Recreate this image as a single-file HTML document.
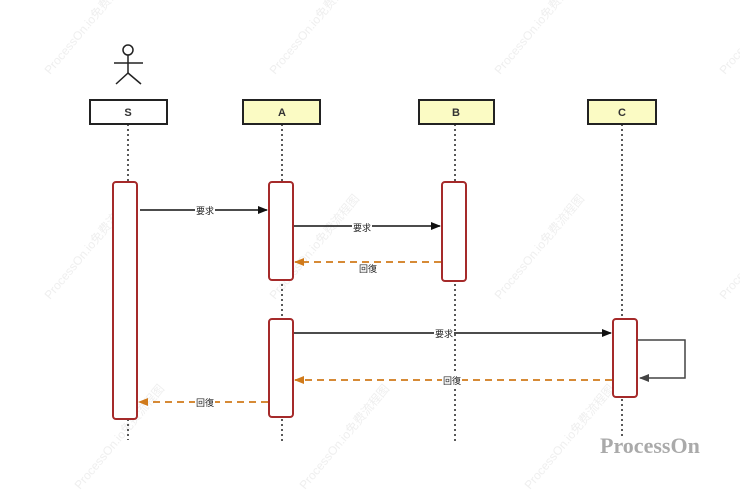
<!DOCTYPE html>
<html><head><meta charset="utf-8"><style>
html,body{margin:0;padding:0;background:#fff;}
svg{display:block;}
text{font-family:"Liberation Sans","Noto Sans CJK SC",sans-serif;}
text.po{font-family:"Liberation Serif",serif;}
</style></head><body>
<svg width="740" height="490" viewBox="0 0 740 490" xmlns="http://www.w3.org/2000/svg">
<defs>
<marker id="ab" markerWidth="10" markerHeight="8" refX="9" refY="4" orient="auto" markerUnits="userSpaceOnUse"><path d="M0,0 L10,4 L0,8 z" fill="#111"/></marker>
<marker id="ao" markerWidth="10" markerHeight="8" refX="9" refY="4" orient="auto" markerUnits="userSpaceOnUse"><path d="M0,0 L10,4 L0,8 z" fill="#d07a1a"/></marker>
<marker id="ag" markerWidth="10" markerHeight="8" refX="9" refY="4" orient="auto" markerUnits="userSpaceOnUse"><path d="M0,0 L10,4 L0,8 z" fill="#444"/></marker>
</defs>
<g fill="#efefef" font-size="12">
<text transform="translate(50,75) rotate(-50)">ProcessOn.io免费流程图</text>
<text transform="translate(275,75) rotate(-50)">ProcessOn.io免费流程图</text>
<text transform="translate(500,75) rotate(-50)">ProcessOn.io免费流程图</text>
<text transform="translate(725,75) rotate(-50)">ProcessOn</text>
<text transform="translate(50,300) rotate(-50)">ProcessOn.io免费流程图</text>
<text transform="translate(275,300) rotate(-50)">ProcessOn.io免费流程图</text>
<text transform="translate(500,300) rotate(-50)">ProcessOn.io免费流程图</text>
<text transform="translate(725,300) rotate(-50)">ProcessOn</text>
<text transform="translate(80,490) rotate(-50)">ProcessOn.io免费流程图</text>
<text transform="translate(305,490) rotate(-50)">ProcessOn.io免费流程图</text>
<text transform="translate(530,490) rotate(-50)">ProcessOn.io免费流程图</text>
</g>
<g stroke="#222" stroke-width="1.5" fill="none">
<circle cx="128" cy="50" r="5"/>
<line x1="128" y1="55" x2="128" y2="73"/>
<line x1="114" y1="63" x2="143" y2="63"/>
<line x1="128" y1="73" x2="116" y2="84"/>
<line x1="128" y1="73" x2="141" y2="84"/>
</g>
<g stroke="#222" stroke-width="1.5" stroke-dasharray="2,3">
<line x1="128" y1="124" x2="128" y2="440"/>
<line x1="282" y1="124" x2="282" y2="442"/>
<line x1="455" y1="124" x2="455" y2="442"/>
<line x1="622" y1="124" x2="622" y2="436"/>
</g>
<g stroke="#222" stroke-width="2">
<rect x="90" y="100" width="77" height="24" fill="#fff"/>
<rect x="243" y="100" width="77" height="24" fill="#fbfbc4"/>
<rect x="419" y="100" width="75" height="24" fill="#fbfbc4"/>
<rect x="588" y="100" width="68" height="24" fill="#fbfbc4"/>
</g>
<g font-size="11" font-weight="bold" fill="#333" text-anchor="middle">
<text x="128" y="116">S</text><text x="282" y="116">A</text><text x="456" y="116">B</text><text x="622" y="116">C</text>
</g>
<g stroke="#a52a2a" stroke-width="2" fill="#fff">
<rect x="113" y="182" width="24" height="237" rx="3"/>
<rect x="269" y="182" width="24" height="98" rx="3"/>
<rect x="269" y="319" width="24" height="98" rx="3"/>
<rect x="442" y="182" width="24" height="99" rx="3"/>
<rect x="613" y="319" width="24" height="78" rx="3"/>
</g>
<g stroke="#111" stroke-width="1.5" fill="none">
<line x1="140" y1="210" x2="267" y2="210" marker-end="url(#ab)"/>
<line x1="294" y1="226" x2="440" y2="226" marker-end="url(#ab)"/>
<line x1="294" y1="333" x2="611" y2="333" marker-end="url(#ab)"/>
</g>
<polyline points="638,340 685,340 685,378 640,378" fill="none" stroke="#444" stroke-width="1.5" marker-end="url(#ag)"/>
<g stroke="#d07a1a" stroke-width="1.8" stroke-dasharray="7,5" fill="none">
<line x1="441" y1="262" x2="295" y2="262" marker-end="url(#ao)"/>
<line x1="612" y1="380" x2="295" y2="380" marker-end="url(#ao)"/>
<line x1="268" y1="402" x2="139" y2="402" marker-end="url(#ao)"/>
</g>
<g font-size="9" fill="#222" text-anchor="middle">
<rect x="195" y="204" width="20" height="12" fill="#fff"/><text x="205" y="214">要求</text>
<rect x="352" y="220" width="20" height="12" fill="#fff"/><text x="362" y="231">要求</text>
<text x="368" y="272">回復</text>
<rect x="434" y="327" width="20" height="12" fill="#fff"/><text x="444" y="337">要求</text>
<rect x="442" y="374" width="20" height="12" fill="#fff"/><text x="452" y="384">回復</text>
<rect x="195" y="396" width="20" height="12" fill="#fff"/><text x="205" y="406">回復</text>
</g>
<text class="po" x="600" y="453" font-size="22" font-weight="bold" fill="#aaa">ProcessOn</text>
</svg>
</body></html>
